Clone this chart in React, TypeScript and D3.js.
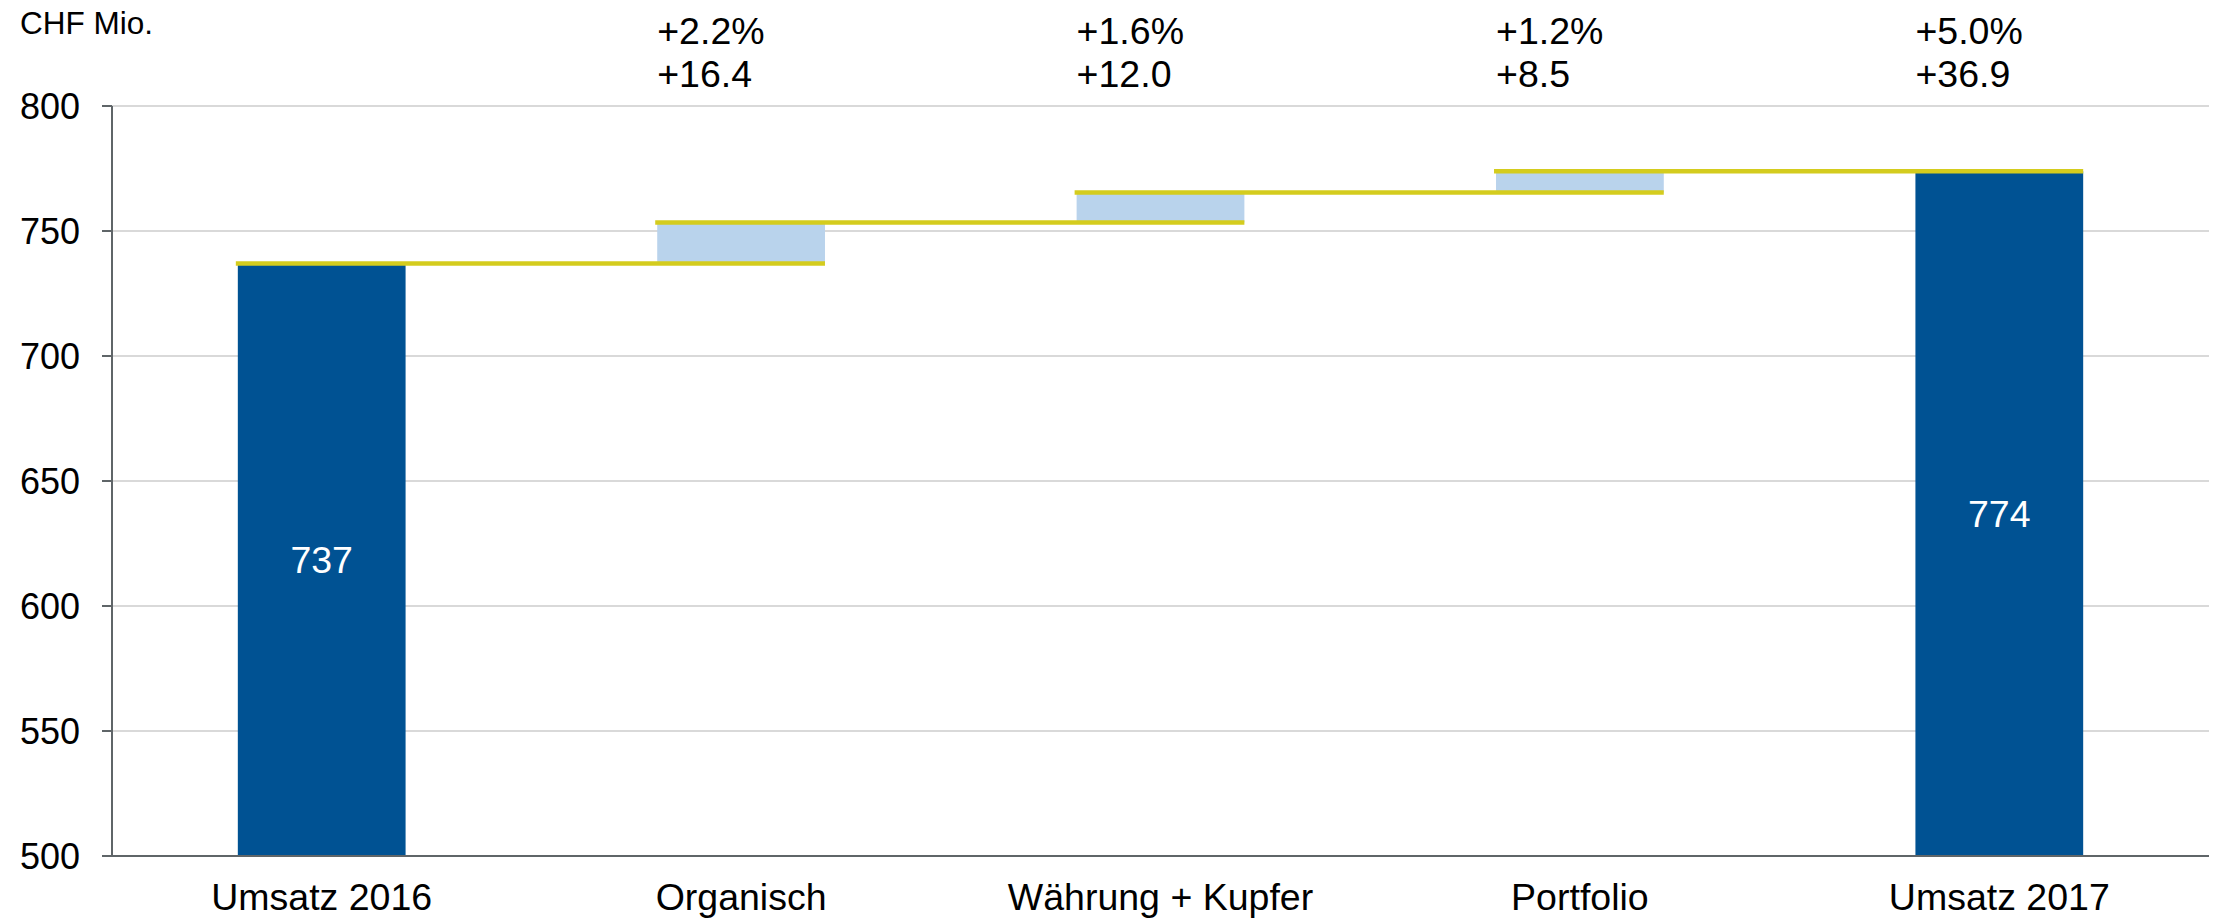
import React from "react";
import * as d3 from "d3";

const categories = ["Umsatz 2016", "Organisch", "Währung + Kupfer", "Portfolio", "Umsatz 2017"];
const startValue = 737;
const deltas = [16.4, 12.0, 8.5];
const barLabels = ["737", "774"];
const pctLabels = ["+2.2%", "+1.6%", "+1.2%", "+5.0%"];
const absLabels = ["+16.4", "+12.0", "+8.5", "+36.9"];
const yTicks = [500, 550, 600, 650, 700, 750, 800];
const unitLabel = "CHF Mio.";

const W = 2219;
const H = 923;
const FONT = "'Liberation Sans', Arial, Helvetica, sans-serif";

export default function App() {
  const x = d3.scaleBand<string>().domain(categories).range([112, 2209]).paddingInner(0.6).paddingOuter(0.3);
  const y = d3.scaleLinear().domain([500, 800]).range([856, 106]);
  const bw = x.bandwidth();

  const segs: { cat: string; lo: number; hi: number; total: boolean }[] = [];
  let cum = startValue;
  segs.push({ cat: categories[0], lo: 500, hi: cum, total: true });
  deltas.forEach((d, i) => {
    segs.push({ cat: categories[i + 1], lo: cum, hi: cum + d, total: false });
    cum += d;
  });
  segs.push({ cat: categories[4], lo: 500, hi: cum, total: true });

  const yellow = "#d4cc1e";
  const dark = "#005293";
  const light = "#b9d3ec";

  return (
    <svg width={W} height={H} style={{ position: "absolute", left: 0, top: 0, background: "#fff" }}>
      {yTicks.filter((t) => t > 500).map((t) => (
        <line key={t} x1={112} x2={2209} y1={y(t)} y2={y(t)} stroke="#d9d9d9" strokeWidth={2} />
      ))}
      {segs.map((s, i) => (
        <rect
          key={i}
          x={x(s.cat)!}
          y={y(s.hi)}
          width={bw}
          height={y(s.lo) - y(s.hi)}
          fill={s.total ? dark : light}
        />
      ))}
      {segs.slice(0, 4).map((s, i) => (
        <line
          key={"c" + i}
          x1={x(s.cat)! - 2}
          x2={x(categories[i + 1])! + bw}
          y1={y(s.hi)}
          y2={y(s.hi)}
          stroke={yellow}
          strokeWidth={4.5}
        />
      ))}
      <line x1={112} x2={112} y1={106} y2={856} stroke="#5f6568" strokeWidth={2} />
      <line x1={102} x2={2209} y1={856} y2={856} stroke="#5f6568" strokeWidth={2} />
      {yTicks.map((t) => (
        <g key={"t" + t}>
          <line x1={102} x2={112} y1={y(t)} y2={y(t)} stroke="#5f6568" strokeWidth={2} />
          <text x={80} y={y(t)} dy="0.35em" textAnchor="end" fontFamily={FONT} fontSize={36} fill="#000">
            {t}
          </text>
        </g>
      ))}
      {categories.map((c) => (
        <text key={c} x={x(c)! + bw / 2} y={910} textAnchor="middle" fontFamily={FONT} fontSize={37.5} fill="#000">
          {c}
        </text>
      ))}
      {[segs[0], segs[4]].map((s, i) => (
        <text
          key={"bl" + i}
          x={x(s.cat)! + bw / 2}
          y={(y(s.hi) + y(500)) / 2}
          dy="0.35em"
          textAnchor="middle"
          fontFamily={FONT}
          fontSize={37.5}
          fill="#fff"
        >
          {barLabels[i]}
        </text>
      ))}
      {pctLabels.map((p, i) => (
        <g key={"p" + i}>
          <text x={x(categories[i + 1])!} y={44} fontFamily={FONT} fontSize={37.5} fill="#000">
            {p}
          </text>
          <text x={x(categories[i + 1])!} y={87} fontFamily={FONT} fontSize={37.5} fill="#000">
            {absLabels[i]}
          </text>
        </g>
      ))}
      <text x={20} y={34} fontFamily={FONT} fontSize={31.5} fill="#000">
        {unitLabel}
      </text>
    </svg>
  );
}
